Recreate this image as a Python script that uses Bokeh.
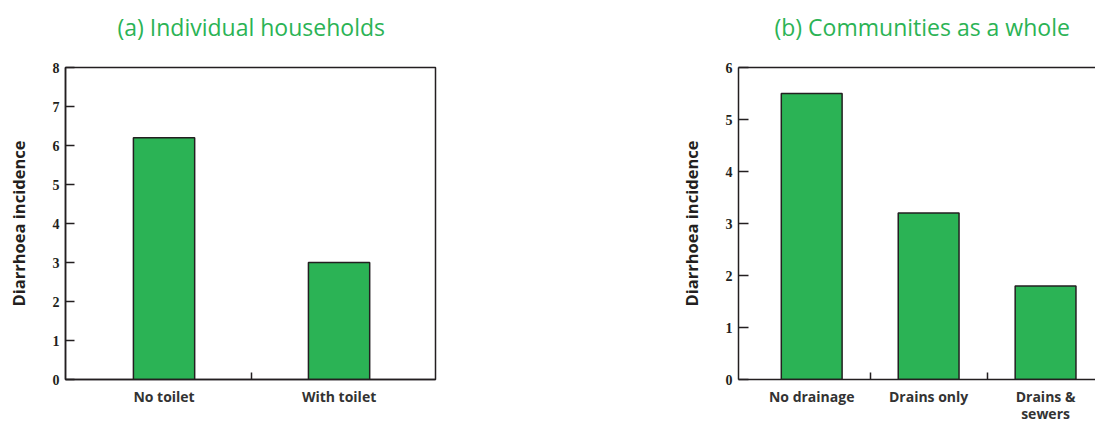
from bokeh.plotting import figure
from bokeh.layouts import row
from bokeh.models import FixedTicker, Range1d, Title, LinearAxis
from bokeh.embed import file_html
from bokeh.resources import INLINE

# ---- data ----
cats_a = ["No toilet", "With toilet"]
vals_a = [6.2, 3.0]
yticks_a = [0, 1, 2, 3, 4, 5, 6, 7, 8]

cats_b = ["No drainage", "Drains only", "Drains &\nsewers"]
vals_b = [5.5, 3.2, 1.8]
yticks_b = [0, 1, 2, 3, 4, 5, 6]

title_a = "(a) Individual households"
title_b = "(b) Communities as a whole"
ylabel = "Diarrhoea incidence"

GREEN = "#2bb355"
DARK = "#231f20"
FRAME_H = 312


def make(cats, vals, yticks, title, fw, bl, br, xr, bar_w, tick_in, title_off, outline):
    xs = list(range(1, len(cats) + 1))
    p = figure(frame_width=fw, frame_height=FRAME_H, output_backend="svg", toolbar_location=None,
               x_range=Range1d(*xr), y_range=Range1d(yticks[0], yticks[-1]),
               min_border_left=bl, min_border_right=br, min_border_top=67, min_border_bottom=44)
    p.title = None

    p.vbar(x=xs, top=vals, width=bar_w, fill_color=GREEN, line_color=DARK, line_width=1.5)
    p.grid.visible = False
    p.background_fill_color = "white"
    p.border_fill_color = "white"
    if outline:
        p.outline_line_color = DARK
        p.outline_line_width = 1.5
    else:
        p.outline_line_color = None

    ya = p.left[0]
    ya.ticker = FixedTicker(ticks=yticks)
    ya.major_tick_in = tick_in
    ya.major_tick_out = 0
    ya.minor_tick_in = 0
    ya.minor_tick_out = 0
    ya.major_tick_line_color = DARK
    ya.major_tick_line_width = 1.5
    ya.axis_line_color = DARK
    ya.axis_line_width = 1.5
    ya.major_label_text_font = "Liberation Serif"
    ya.major_label_text_font_style = "bold"
    ya.major_label_text_font_size = "14px"
    ya.major_label_text_color = DARK
    ya.major_label_standoff = 6
    ya.axis_label = ylabel
    ya.axis_label_text_font = "Open Sans"
    ya.axis_label_text_font_style = "bold"
    ya.axis_label_text_font_size = "16.5px"
    ya.axis_label_text_color = DARK
    ya.axis_label_standoff = 20

    xa = p.below[0]
    mids = [x + 0.5 for x in xs[:-1]]
    xa.ticker = FixedTicker(ticks=xs, minor_ticks=mids)
    xa.major_label_overrides = {x: c for x, c in zip(xs, cats)}
    xa.major_tick_in = 0
    xa.major_tick_out = 0
    xa.minor_tick_in = 7
    xa.minor_tick_out = 0
    xa.minor_tick_line_color = DARK
    xa.minor_tick_line_width = 1.5
    xa.axis_line_color = DARK
    xa.axis_line_width = 1.5
    xa.major_label_text_font = "Open Sans"
    xa.major_label_text_font_style = "bold"
    xa.major_label_text_font_size = "14px"
    xa.major_label_text_line_height = 0.9
    xa.major_label_text_color = "#333333"
    xa.major_label_standoff = 7

    # top edge line + spacer between frame and title (invisible ticks, no labels)
    top = LinearAxis(ticker=FixedTicker(ticks=xs), major_tick_in=0, major_tick_out=20,
                     major_tick_line_color=None, minor_tick_in=0, minor_tick_out=0,
                     major_label_standoff=0, major_label_overrides={x: "" for x in xs},
                     major_label_text_font_size="1px",
                     axis_line_color=None if outline else DARK, axis_line_width=1.5)
    p.add_layout(top, "above")
    p.add_layout(Title(text=title, align="left", offset=title_off, standoff=10,
                       vertical_align="bottom", text_font="Open Sans",
                       text_font_size="23px", text_font_style="normal",
                       text_color=GREEN), "above")
    return p


pa = make(cats_a, vals_a, yticks_a, title_a, 370, 65, 233, (0.437, 2.551), 0.35, 9, 52, True)
pb = make(cats_b, vals_b, yticks_b, title_b, 357, 70, 0, (0.374, 3.427), 0.52, 10, 36, False)

layout = row(pa, pb, spacing=0)
open("out.html", "w").write(file_html(layout, INLINE))
